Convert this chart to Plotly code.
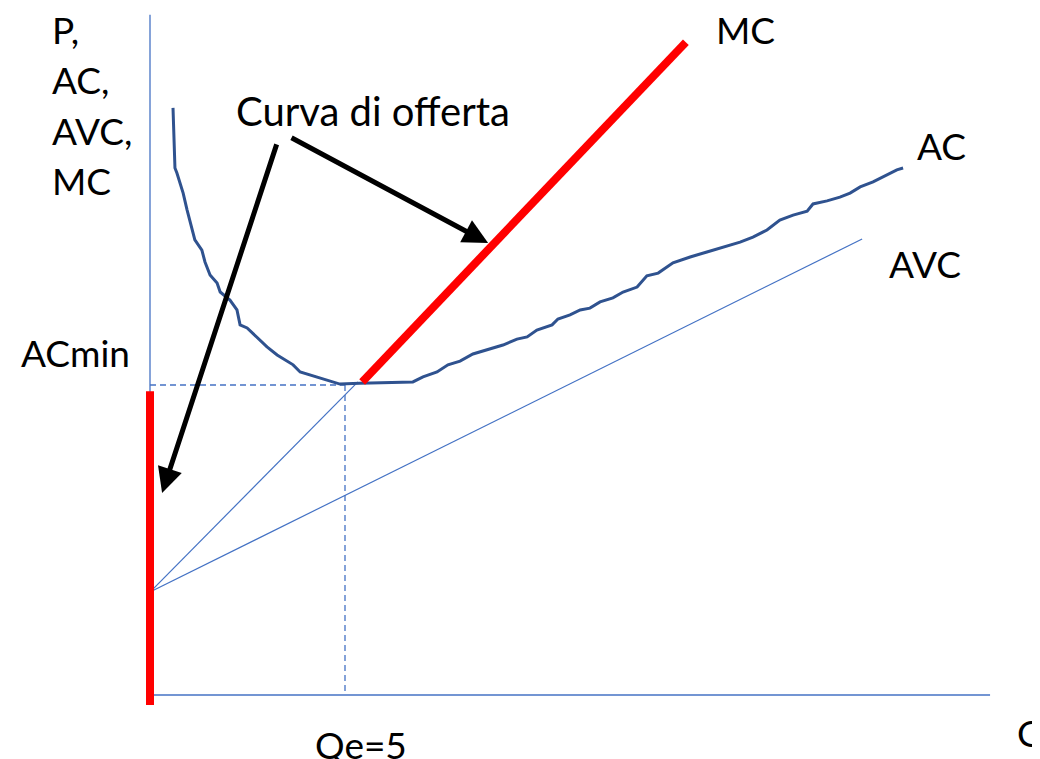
import plotly.graph_objects as go

# ---- data (Q in units of output, P in money units) ----
Qe = 5
AC_min = 10
fixed_cost_intercept = 3.32

ac_q = [0.59, 0.64, 0.69, 0.85, 0.95, 1.03, 1.15, 1.33, 1.41, 1.54, 1.72, 1.80, 2.05, 2.23,
        2.31, 2.49, 2.74, 3.00, 3.26, 3.67, 3.85, 4.28, 4.87, 5.38, 6.74, 7.00, 7.36, 7.64,
        7.95, 8.28, 8.64, 9.05, 9.41, 9.67, 9.92, 10.31, 10.46, 10.77, 11.03, 11.28, 11.54,
        11.87, 12.13, 12.49, 12.74, 13.03, 13.41, 13.85, 14.28, 14.69, 15.13, 15.46, 15.82,
        16.15, 16.49, 16.85, 17.00, 17.36, 17.69, 17.95, 18.21, 18.54, 18.90, 19.15, 19.31]
ac_p = [18.94, 17.00, 16.84, 16.19, 15.65, 15.23, 14.68, 14.35, 13.97, 13.55, 13.29, 13.00,
        12.74, 12.42, 11.94, 11.84, 11.55, 11.23, 10.97, 10.65, 10.42, 10.26, 10.03, 10.06,
        10.10, 10.26, 10.42, 10.65, 10.77, 11.00, 11.13, 11.29, 11.48, 11.55, 11.77, 11.94,
        12.13, 12.26, 12.42, 12.48, 12.68, 12.81, 13.00, 13.16, 13.52, 13.61, 13.94, 14.13,
        14.29, 14.45, 14.61, 14.77, 15.00, 15.32, 15.48, 15.61, 15.84, 15.94, 16.06, 16.19,
        16.39, 16.55, 16.77, 16.94, 17.00]

avc_q = [0, 18.26]
avc_p = [fixed_cost_intercept, 14.71]

ray_q = [0, 5.33]
ray_p = [fixed_cost_intercept, 10.10]

mc_q = [5.44, 13.74]
mc_p = [10.10, 21.06]

supply_zero_q = [0, 0]
supply_zero_p = [9.8, -0.32]

q_axis_q = [0, 21.54]
q_axis_p = [0, 0]
p_axis_q = [0, 0]
p_axis_p = [0, 21.94]

arrow1 = dict(tail=(3.26, 17.81), head=(0.31, 6.52))
arrow2 = dict(tail=(3.59, 18.00), head=(8.67, 14.58))

THIN = "#4472C4"
DARK = "#2F528F"
RED = "#FF0000"
FONT = "Lato"
FS = 37

# page body has an 8px default margin -> figure is 8px smaller and offset
OFF = 8
W, H = 1040 - OFF, 759 - OFF

fig = go.Figure()

def line(x, y, color, width, dash=None):
    fig.add_trace(go.Scatter(x=x, y=y, mode="lines",
                             line=dict(color=color, width=width, dash=dash),
                             hoverinfo="skip", showlegend=False))

# axes
line(p_axis_q, p_axis_p, THIN, 1.3)
line(q_axis_q, q_axis_p, THIN, 1.5)
# dashed guides
line([0, Qe], [AC_min, AC_min], THIN, 1.3, "6px,4px")
line([Qe, Qe], [AC_min, 0], THIN, 1.3, "6px,4px")
# AVC and ray
line(avc_q, avc_p, THIN, 1.2)
line(ray_q, ray_p, THIN, 1.2)
# AC curve
line(ac_q, ac_p, DARK, 3)
# supply curve (red)
line(supply_zero_q, supply_zero_p, RED, 8)
line(mc_q, mc_p, RED, 8)

# arrows
for a in (arrow1, arrow2):
    fig.add_annotation(x=a["head"][0], y=a["head"][1], ax=a["tail"][0], ay=a["tail"][1],
                       xref="x", yref="y", axref="x", ayref="y", text="",
                       showarrow=True, arrowhead=2, arrowwidth=5, arrowsize=1.0,
                       arrowcolor="black", standoff=0, startstandoff=0)

def label(text, px, py, xanchor="center", size=FS):
    fig.add_annotation(x=(px - OFF) / W, y=1 - (py - OFF) / H, xref="paper", yref="paper",
                       text=text, showarrow=False, xanchor=xanchor, yanchor="middle",
                       font=dict(family=FONT, size=size, color="black"))

label("P,", 50, 29, "left")
label("AC,", 50, 79, "left")
label("AVC,", 50, 130, "left")
label("MC", 50, 181, "left")
label("Curva di offerta", 373, 111, size=40)
label("MC", 745, 29)
label("AC", 941, 146)
label("AVC", 925, 263)
label("ACmin", 75, 352)
label("Qe=5", 361, 744)
label("Q", 1015, 732, "left")

fig.update_layout(
    width=W, height=H,
    margin=dict(l=0, r=0, t=0, b=0),
    paper_bgcolor="white", plot_bgcolor="white",
    xaxis=dict(range=[(OFF - 150) / 39, 890 / 39], visible=False, fixedrange=True),
    yaxis=dict(range=[-64 / 31, (695 - OFF) / 31], visible=False, fixedrange=True),
    showlegend=False,
)

fig.write_html("out.html")
